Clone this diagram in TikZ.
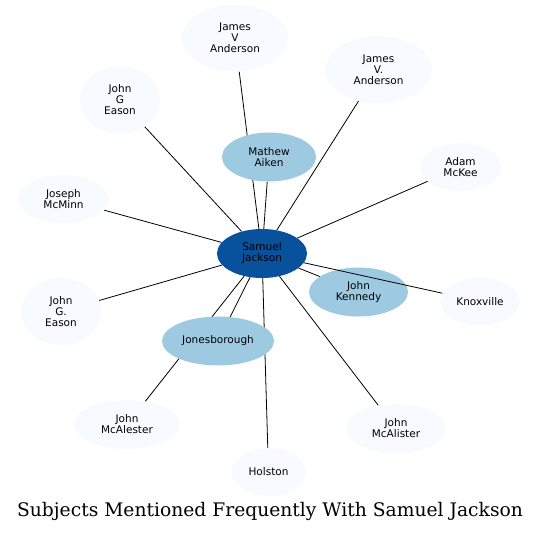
\documentclass[tikz,border=0pt]{standalone}
\usepackage{fontspec}
\setmainfont{DejaVu Sans}
\newfontfamily\titlefont{DejaVu Serif}
\usetikzlibrary{shapes.geometric,backgrounds}
\definecolor{deepblue}{HTML}{08519C}
\definecolor{skyblue}{HTML}{9ECAE1}
\definecolor{paleblue}{HTML}{F7FBFF}

\begin{document}
\begin{tikzpicture}[
    x=1pt, y=-1pt,
    every node/.style={font=\fontsize{10.5}{11}\selectfont},
    subject/.style={ellipse, draw=none, inner sep=0pt, align=center},
    hub/.style={subject, fill=deepblue},
    topic/.style={subject, fill=skyblue, minimum height=49},
    minor/.style={subject, fill=paleblue},
    link/.style={draw=black, line width=0.8pt},
]
\useasboundingbox (0,0) rectangle (540,533);

% Central subject
\node[hub, minimum width=90, minimum height=49] (jackson) at (262,253.5) {Samuel\\Jackson};

% Frequent subjects
\node[topic, minimum width=94] (aiken) at (269,157) {Mathew\\Aiken};
\node[topic, minimum width=99] (kennedy) at (358.5,292) {John\\Kennedy};
\node[topic, minimum width=112] (jonesborough) at (218,341) {Jonesborough};

% Less frequent subjects
\node[minor, minimum width=106, minimum height=67] (andersonA) at (235,38) {James\\V\\Anderson};
\node[minor, minimum width=107, minimum height=67] (andersonB) at (378.5,69.5) {James\\V.\\Anderson};
\node[minor, minimum width=80, minimum height=67] (easonA) at (120,100) {John\\G\\Eason};
\node[minor, minimum width=81, minimum height=48] (mckee) at (460.5,167) {Adam\\McKee};
\node[minor, minimum width=91, minimum height=48] (mcminn) at (63.5,199) {Joseph\\McMinn};
\node[minor, minimum width=80, minimum height=47] (knoxville) at (480,301.5) {Knoxville};
\node[minor, minimum width=80, minimum height=67] (easonB) at (61,311.5) {John\\G.\\Eason};
\node[minor, minimum width=106, minimum height=49] (mcalester) at (127,424.5) {John\\McAlester};
\node[minor, minimum width=100, minimum height=49] (mcalister) at (396,428.5) {John\\McAlister};
\node[minor, minimum width=75, minimum height=48] (holston) at (268.5,472) {Holston};

% Connections (behind the nodes)
\begin{scope}[on background layer]
\foreach \other in {aiken, kennedy, jonesborough, andersonA, andersonB, easonA,
    mckee, mcminn, easonB, mcalester, mcalister, holston}
    \draw[link] (jackson) -- (\other);
\end{scope}
\draw[link] (jackson) -- (knoxville);

% Title
\node[font=\titlefont\fontsize{18.7}{20}\selectfont] (title) at (270,511) {Subjects Mentioned Frequently With Samuel Jackson};
\end{tikzpicture}
\end{document}
